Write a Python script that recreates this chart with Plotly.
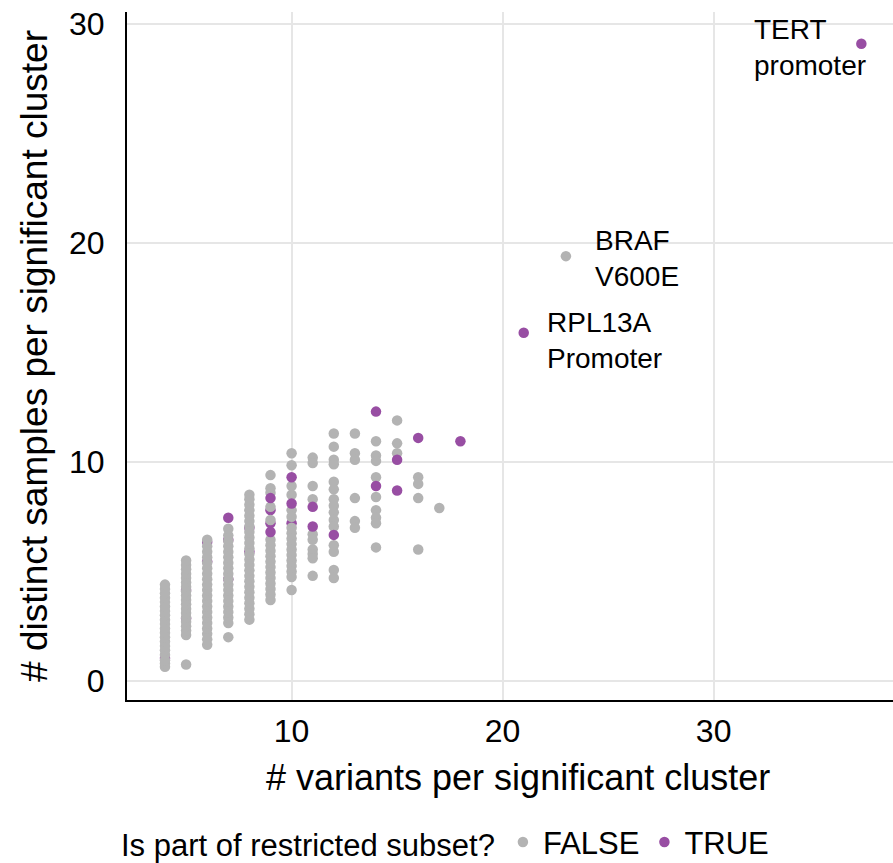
import plotly.graph_objects as go

# ---- data ----
# FALSE (not part of restricted subset)
false_x = ([4] * 20 + [5] * 19 + [6] * 20 + [7] * 19 + [8] * 24 + [9] * 17 +
           [10] * 17 + [11] * 10 + [12] * 15 + [13] * 6 + [14] * 9 + [15] * 3 +
           [16] * 4 + [17] + [23])
false_y = [
    # x = 4
    0.65, 0.8, 0.95, 1.2, 1.4, 1.6, 1.8, 2.0, 2.2, 2.4, 2.6, 2.8, 3.0, 3.2, 3.4, 3.6, 3.8, 4.0, 4.2, 4.4,
    # x = 5
    0.75, 2.1, 2.3, 2.5, 2.7, 2.9, 3.1, 3.3, 3.5, 3.7, 3.9, 4.1, 4.3, 4.5, 4.7, 4.9, 5.1, 5.3, 5.5,
    # x = 6
    1.65, 1.9, 2.15, 2.4, 2.65, 2.9, 3.15, 3.4, 3.65, 3.9, 4.15, 4.4, 4.65, 4.9, 5.15, 5.4, 5.65, 5.9, 6.15, 6.45,
    # x = 7
    2.0, 2.65, 2.9, 3.15, 3.4, 3.65, 3.9, 4.15, 4.4, 4.65, 4.9, 5.15, 5.4, 5.65, 5.9, 6.15, 6.4, 6.65, 6.95,
    # x = 8
    2.8, 3.05, 3.3, 3.55, 3.8, 4.05, 4.3, 4.55, 4.8, 5.05, 5.3, 5.55, 5.8, 6.05, 6.3, 6.55, 6.8, 7.05, 7.3, 7.55, 7.8, 8.05, 8.3, 8.5,
    # x = 9
    9.4, 8.8, 8.6, 7.95, 7.35, 6.45, 6.2, 5.95, 5.7, 5.45, 5.2, 4.95, 4.7, 4.45, 4.2, 3.95, 3.7,
    # x = 10
    10.4, 9.85, 8.9, 8.5, 7.8, 7.5, 7.0, 6.75, 6.5, 6.25, 6.0, 5.75, 5.5, 5.25, 5.0, 4.75, 4.15,
    # x = 11
    10.2, 9.95, 8.9, 8.3, 6.7, 6.45, 6.0, 5.8, 5.6, 4.8,
    # x = 12
    11.3, 10.7, 10.1, 9.9, 9.1, 8.75, 8.3, 8.0, 7.7, 7.35, 7.05, 6.2, 5.9, 5.07, 4.7,
    # x = 13
    11.3, 10.4, 10.1, 8.35, 7.3, 7.0,
    # x = 14
    10.95, 10.3, 10.05, 9.3, 8.4, 7.8, 7.45, 7.2, 6.1,
    # x = 15
    11.9, 10.85, 10.4,
    # x = 16
    9.3, 9.0, 8.35, 6.0,
    # x = 17
    7.9,
    # x = 23 (BRAF V600E)
    19.4,
]

# TRUE points partly hidden beneath grey points
true_under_x = [4, 5, 5, 6, 6, 7, 7, 8, 8, 9, 9, 10]
true_under_y = [1.05, 2.85, 4.15, 6.35, 5.45, 6.45, 4.65, 7.0, 5.9, 7.8, 7.2, 7.2]

# TRUE points drawn on top
true_x = [7, 9, 9, 10, 10, 11, 11, 12, 14, 14, 15, 15, 16, 18, 21, 37]
true_y = [7.45, 8.35, 6.8, 9.3, 8.1, 7.95, 7.05, 6.67, 12.3, 8.9, 10.1, 8.7, 11.1, 10.95, 15.9, 29.1]

# labels
label_text = ["TERT<br>promoter", "BRAF<br>V600E", "RPL13A<br>Promoter"]
label_x = [31.8, 24.3, 22.0]
label_y = [28.95, 19.3, 15.55]

x_ticks = [10, 20, 30]
y_ticks = [0, 10, 20, 30]

x_title = "# variants per significant cluster"
y_title = "# distinct samples per significant cluster"
legend_title = "Is part of restricted subset?"

GREY = "#B3B3B3"
PURPLE = "#984EA3"
FONT = "Liberation Sans, Arial, sans-serif"
MSIZE = 10.5

fig = go.Figure()
fig.add_trace(go.Scatter(
    x=true_under_x, y=true_under_y, mode="markers", name="TRUE", legendgroup="TRUE",
    showlegend=False, marker=dict(color=PURPLE, size=MSIZE, line=dict(width=0))))
fig.add_trace(go.Scatter(
    x=false_x, y=false_y, mode="markers", name="FALSE", legendgroup="FALSE",
    marker=dict(color=GREY, size=MSIZE, line=dict(width=0))))
fig.add_trace(go.Scatter(
    x=true_x, y=true_y, mode="markers", name="TRUE", legendgroup="TRUE",
    marker=dict(color=PURPLE, size=MSIZE, line=dict(width=0))))

for t, lx, ly in zip(label_text, label_x, label_y):
    fig.add_annotation(x=lx, y=ly, text=t, showarrow=False, xanchor="left",
                       yanchor="middle", align="left",
                       font=dict(family=FONT, size=28, color="black"))

# x-axis title placed as paper annotation to match the reference spacing
fig.add_annotation(x=0.51, y=-0.112, xref="paper", yref="paper", text=x_title,
                   showarrow=False, xanchor="center", yanchor="middle",
                   font=dict(family=FONT, size=36, color="black"))

axis_common = dict(
    showgrid=True, gridcolor="#E6E6E6", gridwidth=2,
    zeroline=False, showline=True, linecolor="black", linewidth=2,
    ticks="outside", tickcolor="rgba(0,0,0,0)",
    tickfont=dict(family=FONT, size=32, color="black"),
)

fig.update_layout(
    width=893, height=863,
    margin=dict(l=127, r=0, t=12, b=163),
    paper_bgcolor="white", plot_bgcolor="white",
    font=dict(family=FONT, color="black"),
    xaxis=dict(range=[2.2, 38.5], tickvals=x_ticks, ticklen=2, **axis_common),
    yaxis=dict(range=[-0.87, 30.55], tickvals=y_ticks, ticklen=14,
               title=dict(text=y_title, font=dict(family=FONT, size=37), standoff=10),
               **axis_common),
    legend=dict(orientation="h", xref="container", yref="container",
                x=0.5, xanchor="center", y=0.024, yanchor="middle",
                title=dict(text=legend_title, side="left",
                           font=dict(family=FONT, size=31)),
                font=dict(family=FONT, size=31), itemwidth=30,
                bgcolor="rgba(0,0,0,0)"),
    showlegend=True,
)

fig.write_html("out.html")
